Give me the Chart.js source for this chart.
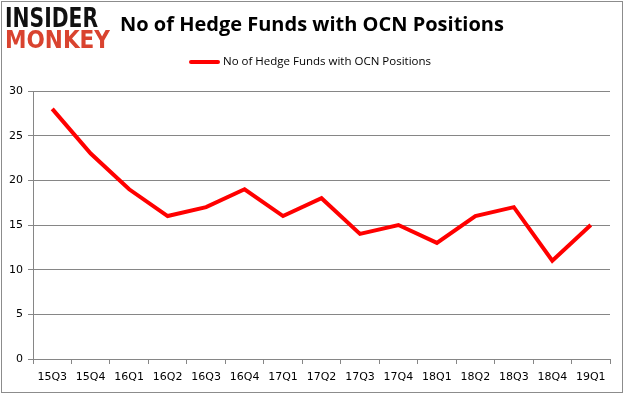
<!DOCTYPE html>
<html>
<head>
<meta charset="utf-8">
<script src="https://cdn.jsdelivr.net/npm/chart.js@4"></script>
<style>
  html, body { margin: 0; padding: 0; background: #fff; }
  #wrap { width: 625px; height: 395px; position: relative; }
</style>
</head>
<body>
<div id="wrap"><canvas id="chart" width="625" height="395"></canvas></div>
<script>
const quarters = ["15Q3","15Q4","16Q1","16Q2","16Q3","16Q4","17Q1","17Q2","17Q3","17Q4","18Q1","18Q2","18Q3","18Q4","19Q1"];
const hedgeFunds = [28, 23, 19, 16, 17, 19, 16, 18, 14, 15, 13, 16, 17, 11, 15];
const yTicks = [0, 5, 10, 15, 20, 25, 30];

const titleText = "No of Hedge Funds with OCN Positions";
const seriesName = "No of Hedge Funds with OCN Positions";

// logo, title, legend and outer frame drawn by hand
const decor = {
    id: 'decor',
    afterDraw(chart) {
        const ctx = chart.ctx;
        ctx.save();
        ctx.strokeStyle = '#8c8c8c';
        ctx.lineWidth = 1;
        ctx.strokeRect(1.5, 1.5, 621, 391);

        ctx.textBaseline = 'alphabetic';
        ctx.font = 'bold 26px "DejaVu Sans"';
        ctx.fillStyle = '#111';
        ctx.save();
        ctx.translate(5, 27);
        ctx.scale(93 / ctx.measureText('INSIDER').width, 1);
        ctx.fillText('INSIDER', 0, 0);
        ctx.restore();
        ctx.font = 'bold 24px "DejaVu Sans"';
        ctx.fillStyle = '#d9432f';
        ctx.save();
        ctx.translate(5, 48);
        ctx.scale(105 / ctx.measureText('MONKEY').width, 1);
        ctx.fillText('MONKEY', 0, 0);
        ctx.restore();

        ctx.fillStyle = '#000';
        ctx.font = 'bold 20px "Open Sans"';
        ctx.textBaseline = 'middle';
        ctx.fillText(titleText, 120, 25);

        ctx.strokeStyle = '#ff0000';
        ctx.lineWidth = 4;
        ctx.lineCap = 'round';
        ctx.beginPath();
        ctx.moveTo(191, 62);
        ctx.lineTo(218, 62);
        ctx.stroke();
        ctx.font = '11.5px "Open Sans"';
        ctx.fillStyle = '#000';
        ctx.fillText(seriesName, 223, 62);
        ctx.restore();
    }
};

new Chart(document.getElementById('chart'), {
    type: 'line',
    data: {
        labels: quarters,
        datasets: [{
            label: seriesName,
            data: hedgeFunds,
            borderColor: '#ff0000',
            backgroundColor: '#ff0000',
            borderWidth: 4,
            pointRadius: 0,
            tension: 0,
            fill: false
        }]
    },
    options: {
        responsive: false,
        animation: false,
        layout: { padding: { top: 91, right: 15, bottom: 0, left: 0 } },
        plugins: {
            legend: { display: false },
            title: { display: false },
            tooltip: { enabled: false }
        },
        scales: {
            x: {
                offset: true,
                grid: { drawOnChartArea: false, drawTicks: true, tickLength: 5, color: '#868686', offset: true },
                border: { display: true, color: '#868686' },
                ticks: { color: '#000', font: { family: 'DejaVu Sans', size: 11 }, padding: 7, maxRotation: 0, autoSkip: false },
                afterFit(scale) { scale.height = 36; }
            },
            y: {
                min: 0,
                max: 30,
                afterBuildTicks(scale) { scale.ticks = yTicks.map(v => ({ value: v })); },
                grid: { color: '#868686', tickLength: 5 },
                border: { display: true, color: '#868686' },
                ticks: { color: '#000', font: { family: 'DejaVu Sans', size: 11 }, padding: 5 },
                afterFit(scale) { scale.width = 33; }
            }
        }
    },
    plugins: [decor]
});
</script>
</body>
</html>
